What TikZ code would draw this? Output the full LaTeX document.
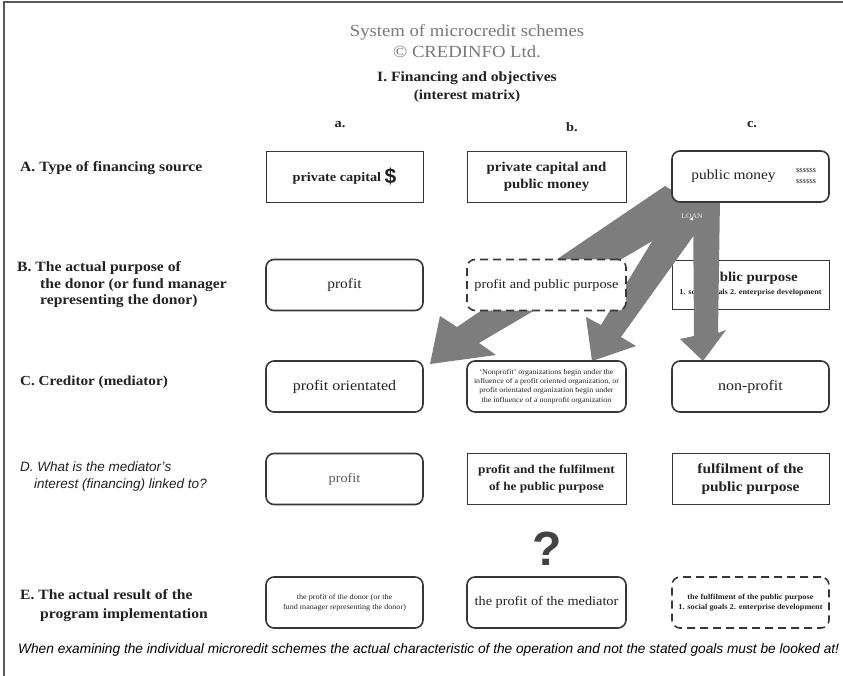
\documentclass[tikz,border=0pt]{standalone}
\usepackage{fontspec}
\setmainfont[FakeStretch=1.1]{Liberation Serif}
\setsansfont{Liberation Sans}
\usetikzlibrary{calc}
\definecolor{txt}{RGB}{34,34,34}
\definecolor{boxc}{RGB}{55,55,55}
\definecolor{titlegray}{RGB}{120,120,120}
\definecolor{arrowgray}{RGB}{125,125,125}
\definecolor{framec}{RGB}{90,90,90}
\tikzset{
  rbox/.style={draw=boxc, line width=1.6pt, rounded corners=8pt, fill=white, minimum width=157pt, minimum height=51pt, align=center, inner sep=2pt, text=txt, font=\fontsize{13}{16}\selectfont},
  sbox/.style={draw=boxc, line width=0.9pt, fill=white, minimum width=157pt, minimum height=51pt, align=center, inner sep=2pt, text=txt, font=\fontsize{13}{16}\selectfont},
  dbox/.style={rbox, dash pattern=on 8pt off 5pt},
  lab/.style={anchor=west, align=left, text=txt, inner sep=0pt, font=\bfseries\fontsize{14.2}{16.5}\selectfont},
  labd/.style={anchor=west, align=left, text=txt, inner sep=0pt, font=\sffamily\itshape\fontsize{13.5}{17}\selectfont},
  collab/.style={text=txt, inner sep=0pt, font=\bfseries\fontsize{13}{15}\selectfont},
  dollars/.style={text=txt, inner sep=0pt, font=\fontsize{6}{6}\selectfont},
  bigarrow/.style={fill=arrowgray, draw=none}
}
\begin{document}
\begin{tikzpicture}[x=1pt,y=-1pt]
\useasboundingbox (0,0) rectangle (843,676);
\fill[white] (0,0) rectangle (843,676);
% frame
\draw[framec, line width=1.5pt] (4,676) -- (4,2) -- (843,2);

% titles
\node[text=titlegray, font=\fontsize{17}{20}\selectfont] (t1) at (467,32) {System of microcredit schemes};
\node[text=titlegray, font=\fontsize{17}{20}\selectfont] (t2) at (467,52) {© CREDINFO Ltd.};
\node[text=txt, font=\bfseries\fontsize{14.2}{16}\selectfont] (t3) at (467,78) {I. Financing and objectives};
\node[text=txt, font=\bfseries\fontsize{13.8}{16}\selectfont] (t4) at (467,96) {(interest matrix)};

% column labels
\node[collab] (ca) at (340,125) {a.};
\node[collab] (cb) at (572,127) {b.};
\node[collab] (cc) at (752,125) {c.};

% row labels
\node[lab] (ra) at (20,168) {A. Type of financing source};
\node[lab] (rb) at (17,285) {B. The actual purpose of\\\hspace*{23pt}the donor (or fund manager\\\hspace*{23pt}representing the donor)};
\node[lab, font=\bfseries\fontsize{13.8}{16.5}\selectfont] (rc) at (20,382) {C. Creditor (mediator)};
\node[labd] (rd) at (20,477) {D. What is the mediator's\\\hspace*{14pt}interest (financing) linked to?};
\node[lab, font=\bfseries\fontsize{14.2}{19}\selectfont] (re) at (20,606) {E. The actual result of the\\\hspace*{20pt}program implementation};

% row B column c (under the arrows)
\node[sbox, minimum height=49pt, font=\bfseries\fontsize{13.5}{15}\selectfont] (bc) at (750.5,284.5) {public purpose\\[-2pt]{\fontsize{7.5}{8}\selectfont 1. social goals 2. enterprise development}};

% big arrows
\fill[bigarrow] (665,186) -- (457,327) -- (440,316) -- (430,364) -- (496,355) -- (479,343) -- (705,210) -- cycle;
\fill[bigarrow] (670,212) -- (601,325) -- (586,317) -- (592,361) -- (636,346) -- (621,337) -- (702,224) -- cycle;
\fill[bigarrow] (693,198) -- (694,336) -- (680,339) -- (703,361) -- (726,330) -- (718,333) -- (720,198) -- cycle;
\node[text=white!85!gray, font=\fontsize{7}{7}\selectfont, inner sep=0pt] (loan) at (692,216) {LOAN};

% row A
\node[sbox, font=\bfseries\fontsize{13}{16}\selectfont] (aa) at (344.5,176.5) {private capital \raisebox{-2pt}{\sffamily\fontsize{21}{21}\selectfont\$}};
\node[sbox, minimum width=159pt, font=\bfseries\fontsize{13.5}{17}\selectfont] (ab) at (546.5,176.5) {private capital and\\public money};
\node[rbox, font=\fontsize{14}{16}\selectfont] (ac) at (750.5,176.5) {public money\hspace{34pt}};
\node[dollars] (d1) at (806,171) {\$\$\$\$\$\$};
\node[dollars] (d2) at (806,181.5) {\$\$\$\$\$\$};

% row B
\node[rbox, font=\fontsize{14}{16}\selectfont] (ba) at (344.5,285) {profit};
\node[dbox, minimum width=159pt] (bb) at (546.5,285) {profit and public purpose};

% row C
\node[rbox, font=\fontsize{14.5}{16}\selectfont] (cra) at (344.5,386.5) {profit orientated};
\node[rbox, minimum width=159pt, font=\fontsize{7.3}{9.3}\selectfont] (crb) at (546.5,386.5) {`Nonprofit' organizations begin under the\\influence of a profit oriented organization, or\\profit orientated organization begin under\\the influence of a nonprofit organization};
\node[rbox, font=\fontsize{14.5}{16}\selectfont] (crc) at (750.5,386.5) {non-profit};

% row D
\node[rbox, text=txt!75, font=\fontsize{13}{16}\selectfont] (da) at (344.5,479) {profit};
\node[sbox, minimum width=159pt, font=\bfseries\fontsize{12}{17}\selectfont] (db) at (546.5,479) {profit and the fulfilment\\of he public purpose};
\node[sbox, font=\bfseries\fontsize{14}{18}\selectfont] (dc) at (750.5,479) {fulfilment of the\\public purpose};

% question mark
\node[text=txt!85, font=\sffamily\bfseries\fontsize{48}{48}\selectfont, inner sep=0pt] (q) at (547,549) {?};

% row E
\node[rbox, font=\fontsize{7.4}{9.5}\selectfont] (ea) at (344.5,602.5) {the profit of the donor (or the\\fund manager representing the donor)};
\node[rbox, minimum width=159pt, font=\fontsize{13}{16}\selectfont] (eb) at (546.5,602.5) {the profit of the mediator};
\node[dbox, font=\bfseries\fontsize{7.6}{10}\selectfont] (ec) at (750.5,602.5) {the fulfilment of the public purpose\\1. social goals 2. enterprise development};

% bottom note
\node[anchor=west, inner sep=0pt, text=black, font=\sffamily\itshape\fontsize{13.7}{16}\selectfont] (note) at (18,650) {When examining the individual microredit schemes the actual characteristic of the operation and not the stated goals must be looked at!};
\end{tikzpicture}
\end{document}
